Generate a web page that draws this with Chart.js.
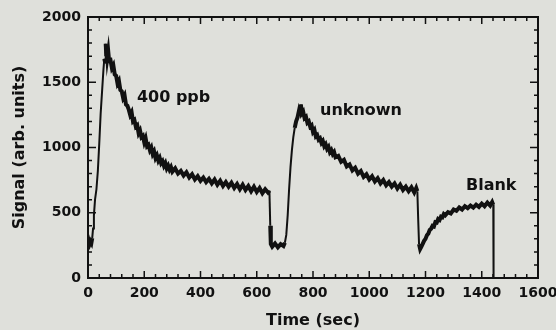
<!DOCTYPE html>
<html>
<head>
<meta charset="utf-8">
<title>Signal vs time</title>
<script src="https://cdn.jsdelivr.net/npm/chart.js@4.4.1/dist/chart.umd.min.js"></script>
<style>
  html, body { margin: 0; padding: 0; background: #dfe0db; }
  #wrap { width: 556px; height: 330px; }
</style>
</head>
<body>
<div id="wrap"><canvas id="signalChart" width="556" height="330"></canvas></div>
<script>
// trace: time (sec) and signal (arb. units)
const timeSec = [
    0, 3, 6, 9, 12, 15, 18, 21, 25, 30, 35, 40, 45, 50, 55, 58, 61, 63, 65, 67, 69, 72, 75,
    80, 85, 90, 95, 100, 105, 110, 115, 120, 125, 130, 135, 140, 145, 150, 155, 160, 165, 170, 175,
    180, 185, 190, 195, 200, 205, 210, 215, 220, 225, 230, 235, 240, 245, 250, 255, 260, 265, 270,
    275, 280, 285, 290, 295, 300, 310, 320, 330, 340, 350, 360, 370, 380, 390, 400, 410, 420, 430,
    440, 450, 460, 470, 480, 490, 500, 510, 520, 530, 540, 550, 560, 570, 580, 590, 600, 610, 620,
    630, 640, 645,
    648, 650, 655, 665, 675, 685, 695, 700,
    705, 710, 715, 720, 725, 730, 735, 740, 745, 750, 754, 757, 760, 765, 770, 775, 780, 785, 790,
    795, 800, 805, 810, 815, 820, 825, 830, 835, 840, 845, 850, 855, 860, 865, 870, 875, 880, 890,
    900, 910, 920, 930, 940, 950, 960, 970, 980, 990, 1000, 1010, 1020, 1030, 1040, 1050, 1060,
    1070, 1080, 1090, 1100, 1110, 1120, 1130, 1140, 1150, 1160, 1167, 1171,
    1174, 1177, 1181, 1185, 1190, 1195, 1200, 1205, 1210, 1215, 1220, 1225, 1230, 1235, 1240, 1245,
    1250, 1255, 1260, 1265, 1270, 1280, 1290, 1300, 1310, 1320, 1330, 1340, 1350, 1360, 1370, 1380,
    1390, 1400, 1410, 1420, 1430, 1437, 1441, 1442
];
const signal = [
    255, 285, 262, 280, 268, 305, 380, 480, 600, 680, 820, 1030, 1260, 1430, 1600, 1680, 1650, 1795, 1700, 1760, 1690, 1735, 1665,
    1670, 1610, 1630, 1560, 1550, 1490, 1510, 1440, 1430, 1380, 1400, 1330, 1320, 1290, 1250, 1270, 1200, 1210, 1160, 1170,
    1110, 1130, 1080, 1090, 1040, 1070, 1010, 1020, 980, 1000, 950, 970, 920, 940, 900, 920, 880, 895, 860,
    880, 840, 860, 830, 850, 815, 840, 800, 820, 785, 810, 770, 795, 755, 780, 745, 770, 735, 760,
    725, 755, 715, 745, 705, 735, 700, 730, 690, 720, 680, 715, 675, 705, 665, 700, 660, 690, 650,
    680, 655, 670,
    400, 260, 240, 265, 235, 260, 245, 270,
    330, 480, 680, 850, 980, 1080, 1150, 1200, 1230, 1280, 1250, 1330, 1260, 1275, 1225, 1235, 1190, 1200, 1160,
    1170, 1120, 1135, 1085, 1095, 1060, 1070, 1035, 1050, 1010, 1025, 990, 1005, 965, 980, 950, 965, 925, 935,
    890, 905, 855, 870, 825, 845, 800, 820, 775, 795, 755, 780, 740, 765, 725, 750, 710,
    735, 700, 725, 685, 715, 675, 700, 665, 695, 655, 690, 665,
    450, 260, 222, 238, 262, 285, 300, 328, 340, 368, 378, 400, 395, 428, 425, 452,
    445, 470, 465, 490, 480, 505, 495, 525, 515, 540, 525, 550, 535, 555, 540, 562,
    545, 570, 550, 578, 555, 582, 560, 0
];

const xTicks = [0, 200, 400, 600, 800, 1000, 1200, 1400, 1600];
const yTicks = [0, 500, 1000, 1500, 2000];
const curveLabels = ['400 ppb', 'unknown', 'Blank'];

const ink = '#111';
Chart.defaults.font.family = "'DejaVu Sans', sans-serif";
Chart.defaults.color = ink;

// boxed frame with inward ticks on all four sides
const frameTicks = {
    id: 'frameTicks',
    afterDatasetsDraw(chart) {
        const {ctx, chartArea: a, scales: {x, y}} = chart;
        ctx.save();
        ctx.strokeStyle = ink;
        ctx.lineWidth = 2;
        ctx.strokeRect(a.left, a.top, a.right - a.left, a.bottom - a.top);
        ctx.lineWidth = 1.5;
        ctx.beginPath();
        for (let t = 0; t <= 1600; t += 40) {
            const px = x.getPixelForValue(t);
            const len = t % 200 === 0 ? 7 : 4;
            ctx.moveTo(px, a.bottom); ctx.lineTo(px, a.bottom - len);
            ctx.moveTo(px, a.top); ctx.lineTo(px, a.top + len);
        }
        for (let v = 0; v <= 2000; v += 100) {
            const py = y.getPixelForValue(v);
            const len = v % 500 === 0 ? 8 : 4;
            ctx.moveTo(a.left, py); ctx.lineTo(a.left + len, py);
            ctx.moveTo(a.right, py); ctx.lineTo(a.right - len, py);
        }
        ctx.stroke();
        ctx.restore();
    }
};

// text next to each pulse, anchored in data units (left, baseline)
const pulseNotes = {
    id: 'pulseNotes',
    afterDatasetsDraw(chart, args, opts) {
        const {ctx, scales: {x, y}} = chart;
        ctx.save();
        ctx.font = 'bold 16px "DejaVu Sans"';
        ctx.fillStyle = ink;
        ctx.textAlign = 'left';
        ctx.textBaseline = 'alphabetic';
        opts.anchors.forEach((p, i) => {
            ctx.fillText(curveLabels[i], x.getPixelForValue(p[0]), y.getPixelForValue(p[1]));
        });
        ctx.restore();
    }
};

// the sharp rises and drops of the trace are drawn thinner than the noisy decays
function edgeWidth(ctx) {
    const dv = ctx.p1.parsed.y - ctx.p0.parsed.y;
    return (dv > 50 || dv < -150) ? 2 : 4;
}

new Chart(document.getElementById('signalChart'), {
    type: 'line',
    data: {
        datasets: [{
            data: timeSec.map((t, i) => ({x: t, y: signal[i]})),
            borderColor: ink,
            borderWidth: 4,
            borderJoinStyle: 'miter',
            segment: { borderWidth: edgeWidth },
            pointRadius: 0,
            tension: 0,
            fill: false
        }]
    },
    options: {
        responsive: false,
        animation: false,
        layout: { padding: { top: 17, right: 18, left: 0, bottom: 0 } },
        plugins: {
            legend: { display: false },
            tooltip: { enabled: false },
            pulseNotes: { anchors: [[174, 1351], [825, 1249], [1344, 674]] }
        },
        scales: {
            x: {
                type: 'linear',
                min: 0,
                max: 1600,
                grid: { display: false, drawTicks: false },
                border: { display: false },
                afterBuildTicks: s => { s.ticks = xTicks.map(v => ({value: v})); },
                afterFit: s => { s.height = 52; s.paddingLeft = 0; s.paddingRight = 0; },
                ticks: {
                    padding: 7,
                    maxRotation: 0,
                    font: { size: 14, weight: 'bold' },
                    callback: v => String(v)
                },
                title: {
                    display: true,
                    text: 'Time (sec)',
                    font: { size: 16, weight: 'bold' },
                    padding: { top: 0, bottom: 0 }
                }
            },
            y: {
                type: 'linear',
                min: 0,
                max: 2000,
                grid: { display: false, drawTicks: false },
                border: { display: false },
                afterBuildTicks: s => { s.ticks = yTicks.map(v => ({value: v})); },
                afterFit: s => { s.width = 88; s.paddingTop = 0; s.paddingBottom = 0; },
                ticks: {
                    padding: 7,
                    font: { size: 14, weight: 'bold' },
                    callback: v => String(v)
                },
                title: {
                    display: true,
                    text: 'Signal (arb. units)',
                    font: { size: 16, weight: 'bold' },
                    padding: { top: 10, bottom: 0 }
                }
            }
        }
    },
    plugins: [frameTicks, pulseNotes]
});
</script>
</body>
</html>
